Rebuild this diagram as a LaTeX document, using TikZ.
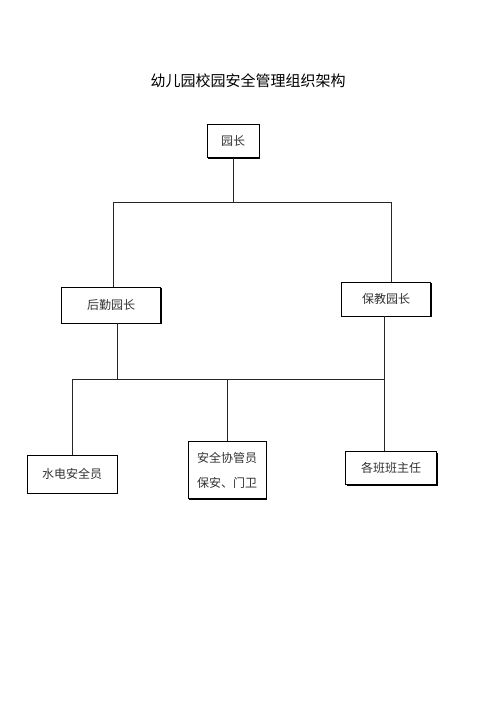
\documentclass[tikz,border=0pt]{standalone}
\usepackage{fontspec}
\setmainfont{Noto Sans CJK SC}
\usetikzlibrary{shadows}

\begin{document}
\begin{tikzpicture}[x=1pt,y=1pt,
	post/.style={draw=black, line width=0.8pt, fill=white, font=\fontsize{12}{14}\selectfont, text=black!80,
		drop shadow={shadow xshift=1.2pt, shadow yshift=-1.2pt, fill=black, opacity=1}},
	link/.style={color=black!85, line width=1pt}]

	\useasboundingbox (0,0) rectangle (496,-702);

	\node[font=\fontsize{15}{18}\selectfont] (title) at (248,-81) {幼儿园校园安全管理组织架构};

	\node[post, minimum width=52, minimum height=33] (yz) at (233,-141) {园长};
	\node[post, minimum width=99, minimum height=36] (hq) at (111,-305) {后勤园长};
	\node[post, minimum width=89, minimum height=34] (bj) at (386,-299) {保教园长};
	\node[post, minimum width=90, minimum height=38] (sd) at (72,-474) {水电安全员};
	\node[post, minimum width=78, minimum height=57, align=left] (aq) at (227,-470)
		{安全协管员\\[11pt]保安、门卫};
	\node[post, minimum width=91, minimum height=33] (bz) at (391,-468) {各班班主任};

	\coordinate (t1) at (113,-202);
	\coordinate (t2) at (391,-202);
	\coordinate (b1) at (72,-379);
	\coordinate (b2) at (384,-379);

	\draw[link] (yz.south) -- (yz.south |- t1);
	\draw[link] (t1) -- (t2);
	\draw[link] (t1) -- (t1 |- hq.north);
	\draw[link] (t2) -- (t2 |- bj.north);

	\draw[link] ([xshift=6pt]hq.south) -- ([xshift=6pt]hq.south |- b1);
	\draw[link] (b2 |- bj.south) -- (b2);
	\draw[link] (b1) -- (b2);
	\draw[link] (b1) -- (sd.north);
	\draw[link] (aq.north |- b1) -- (aq.north);
	\draw[link] (b2) -- (b2 |- bz.north);

\end{tikzpicture}
\end{document}
